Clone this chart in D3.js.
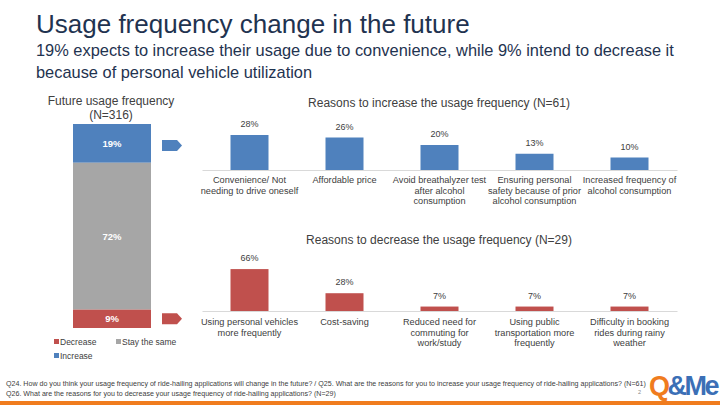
<!DOCTYPE html>
<html><head><meta charset="utf-8">
<script src="https://cdn.jsdelivr.net/npm/d3@7"></script>
<style>body{margin:0;background:#fff}svg{display:block;font-family:"Liberation Sans",Arial,sans-serif}</style>
</head><body><svg id="c" width="720" height="405"></svg>
<script>
// Data
const freqCategories = ["Increase", "Stay the same", "Decrease"];
const freqValues = [19, 72, 9];
const legendLabels = ["Decrease", "Stay the same", "Increase"];
const incCategories = [
  ["Convenience/ Not","needing to drive oneself"],
  ["Affordable price"],
  ["Avoid breathalyzer test","after alcohol","consumption"],
  ["Ensuring personal","safety because of prior","alcohol consumption"],
  ["Increased frequency of","alcohol consumption"]
];
const incValues = [28, 26, 20, 13, 10];
const decCategories = [
  ["Using personal vehicles","more frequently"],
  ["Cost-saving"],
  ["Reduced need for","commuting for","work/study"],
  ["Using public","transportation more","frequently"],
  ["Difficulty in booking","rides during rainy","weather"]
];
const decValues = [66, 28, 7, 7, 7];

const colors = {"Increase":"#4f81bd","Stay the same":"#a6a6a6","Decrease":"#c0504d"};
const txt = "#404040", navy = "#1f3350";
const svg = d3.select("#c");

// Title
svg.append("text").attr("x",36).attr("y",33).attr("font-size",26).attr("fill",navy).text("Usage frequency change in the future");
svg.append("text").attr("x",36).attr("y",56).attr("font-size",16.4).attr("fill",navy).text("19% expects to increase their usage due to convenience, while 9% intend to decrease it");
svg.append("text").attr("x",36).attr("y",78).attr("font-size",16.4).attr("fill",navy).text("because of personal vehicle utilization");

// Left stacked bar
svg.append("text").attr("x",111).attr("y",105).attr("text-anchor","middle").attr("font-size",12).attr("fill",txt).text("Future usage frequency");
svg.append("text").attr("x",111).attr("y",119).attr("text-anchor","middle").attr("font-size",12).attr("fill",txt).text("(N=316)");
const yS = d3.scaleLinear().domain([0,100]).range([124,328]);
let cum = 0;
const stack = freqCategories.map((c,i)=>{const o={c,v:freqValues[i],y0:cum}; cum+=freqValues[i]; return o;});
const sg = svg.append("g");
sg.selectAll("rect").data(stack).join("rect")
  .attr("x",73).attr("width",78)
  .attr("y",d=>yS(d.y0)).attr("height",d=>yS(d.y0+d.v)-yS(d.y0))
  .attr("fill",d=>colors[d.c]);
sg.selectAll("text").data(stack).join("text")
  .attr("x",112).attr("y",d=>yS(d.y0+d.v/2)+3.5).attr("text-anchor","middle")
  .attr("font-size",9.5).attr("font-weight","bold").attr("fill","#fff").text(d=>d.v+"%");

// Arrows
function arrow(y, col){
  svg.append("path").attr("d",`M162,${y-5.5}H177L182,${y}L177,${y+5.5}H162Z`).attr("fill",col);
}
arrow(yS(stack[0].y0+stack[0].v/2)+2, colors["Increase"]);
arrow(yS(stack[2].y0+stack[2].v/2), colors["Decrease"]);

// Legend
const leg = [{l:"Decrease",x:54,y:345},{l:"Stay the same",x:116,y:345},{l:"Increase",x:54,y:359}];
leg.forEach(d=>{
  svg.append("rect").attr("x",d.x).attr("y",d.y-6).attr("width",5).attr("height",5).attr("fill",colors[d.l]);
  svg.append("text").attr("x",d.x+6).attr("y",d.y).attr("font-size",8.5).attr("fill",txt).text(d.l);
});

// Bar charts
function barChart(title, titleY, cats, vals, baseY, pxPerPct, col, labelY){
  const x = d3.scaleBand().domain(d3.range(cats.length)).range([202,677]).paddingInner(0.6).paddingOuter(0.3);
  const y = d3.scaleLinear().domain([0,100]).range([baseY, baseY-100*pxPerPct]);
  const g = svg.append("g");
  g.append("text").attr("x",439).attr("y",titleY).attr("text-anchor","middle").attr("font-size",12).attr("fill",txt).text(title);
  g.selectAll("rect").data(vals).join("rect")
    .attr("x",(d,i)=>x(i)).attr("width",x.bandwidth())
    .attr("y",d=>y(d)).attr("height",d=>y(0)-y(d)).attr("fill",col);
  g.selectAll(".v").data(vals).join("text").attr("class","v")
    .attr("x",(d,i)=>x(i)+x.bandwidth()/2).attr("y",d=>y(d)-8).attr("text-anchor","middle")
    .attr("font-size",9).attr("fill",txt).text(d=>d+"%");
  const ax = g.append("g").attr("transform",`translate(0,${baseY})`)
    .call(d3.axisBottom(x).tickSize(0).tickFormat(""));
  ax.select(".domain").attr("stroke","#d9d9d9");
  ax.selectAll(".tick").remove();
  cats.forEach((lines,i)=>{
    const t = g.append("text").attr("x",x(i)+x.bandwidth()/2).attr("y",labelY).attr("text-anchor","middle").attr("font-size",9.2).attr("fill",txt);
    lines.forEach((ln,j)=>t.append("tspan").attr("x",x(i)+x.bandwidth()/2).attr("dy",j?10.5:0).text(ln));
  });
}
barChart("Reasons to increase the usage frequency (N=61)",107,incCategories,incValues,170,1.25,colors["Increase"],183);
barChart("Reasons to decrease the usage frequency (N=29)",244,decCategories,decValues,311,0.635,colors["Decrease"],325);

// Footnote
svg.append("text").attr("x",6).attr("y",386).attr("font-size",7.1).attr("fill",txt).text("Q24. How do you think your usage frequency of ride-hailing applications will change in the future? / Q25. What are the reasons for you to increase your usage frequency of ride-hailing applications? (N=61)");
svg.append("text").attr("x",6).attr("y",396).attr("font-size",7.1).attr("fill",txt).text("Q26. What are the reasons for you to decrease your usage frequency of ride-hailing applications? (N=29)");
svg.append("text").attr("x",638).attr("y",394).attr("font-size",5.5).attr("fill","#888").text("2");
// Logo
const logo = svg.append("text").attr("x",649).attr("y",395).attr("font-size",27).attr("font-weight","bold").attr("letter-spacing",-2.5);
logo.append("tspan").attr("fill","#f07c1e").text("Q");
logo.append("tspan").attr("fill","#3b6fb6").text("&Me");
// Bottom orange bar
svg.append("rect").attr("x",0).attr("y",401).attr("width",720).attr("height",4).attr("fill","#f07c1e");
</script></body></html>
